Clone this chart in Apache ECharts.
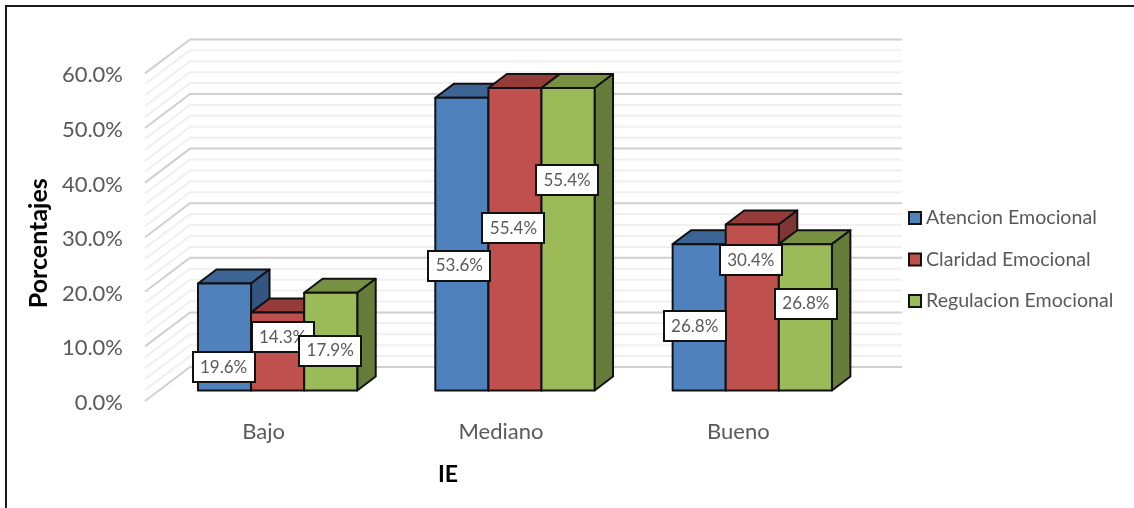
<!DOCTYPE html>
<html>
<head>
<meta charset="utf-8">
<script src="https://cdn.jsdelivr.net/npm/echarts@6/dist/echarts.min.js"></script>
<style>html,body{margin:0;padding:0;background:#fff}#c{width:1134px;height:508px}</style>
</head>
<body>
<div id="c"></div>
<script>
const categories = ['Bajo', 'Mediano', 'Bueno'];
const atencion = [19.6, 53.6, 26.8];
const claridad = [14.3, 55.4, 30.4];
const regulacion = [17.9, 55.4, 26.8];
const seriesNames = ['Atencion Emocional', 'Claridad Emocional', 'Regulacion Emocional'];
const gridValues = [0, 2, 4, 6, 8, 10, 12, 14, 16, 18, 20, 22, 24, 26, 28, 30, 32, 34, 36, 38, 40, 42, 44, 46, 48, 50, 52, 54, 56, 58, 60];

// Oblique projection: depth 0 is the axis plane, depth 1 the back wall.
const DEPTH_X = 45, DEPTH_Y = -34;
const BAR_NEAR = 0.31, BAR_FAR = 0.72;
const BAR_SHARE = 1 / 4.47;
const project = (p, z) => [p[0] + DEPTH_X * z, p[1] + DEPTH_Y * z];

const FONT = 'Lato';

const faceColors = [
  { front: '#4F81BD', top: '#3C6494', side: '#335680' },
  { front: '#C0504D', top: '#953C3A', side: '#7F3533' },
  { front: '#9BBB59', top: '#779043', side: '#667C3A' }
];

// Where each value box sits relative to the middle of its bar's front face,
// one row per series, one pair per category.
const labelShift = [
  [[-1, 30.5], [-2.5, 21.5], [-4.5, 9]],
  [[5, -14], [-1.5, -11], [-1.5, -47]],
  [[-0.5, 9], [-1, -59], [0.5, -13.5]]
];

function renderGrid(params, api) {
  const y = api.coord([0, api.value(1)])[1];
  const left = params.coordSys.x, right = left + params.coordSys.width;
  const major = api.value(1) % 10 === 0;
  return {
    type: 'polyline',
    silent: true,
    shape: { points: [[left, y], project([left, y], 1), project([right, y], 1)] },
    style: { fill: null, stroke: major ? '#D0D0D0' : '#F0F0F0', lineWidth: 2 }
  };
}

function makeBarRenderer(s) {
  return function (params, api) {
    const c = api.value(0), v = api.value(1);
    const w = api.size([1, 0])[0] * BAR_SHARE;
    const base = api.coord([c, 0]), top = api.coord([c, v]);
    const xl = base[0] + (s - 1.5) * w, xr = xl + w;
    const a = project([xl, top[1]], BAR_NEAR), b = project([xr, top[1]], BAR_NEAR);
    const d = project([xr, base[1]], BAR_NEAR), e = project([xl, base[1]], BAR_NEAR);
    const a2 = project([xl, top[1]], BAR_FAR), b2 = project([xr, top[1]], BAR_FAR);
    const d2 = project([xr, base[1]], BAR_FAR);
    const edge = { stroke: '#111', lineWidth: 2, lineJoin: 'round' };
    const col = faceColors[s];
    const poly = (pts, fill) => ({ type: 'polygon', shape: { points: pts }, style: Object.assign({ fill }, edge) });

    const shift = labelShift[s][c];
    const cx = (a[0] + b[0]) / 2 + shift[0], cy = (a[1] + e[1]) / 2 + shift[1];
    return {
      type: 'group',
      children: [
        poly([a, a2, b2, b], col.top),
        poly([b, b2, d2, d], col.side),
        poly([a, b, d, e], col.front),
        {
          type: 'rect', z2: 100 + 2 * s,
          shape: { x: Math.round(cx - 31), y: Math.round(cy - 15), width: 62, height: 30 },
          style: { fill: '#fff', stroke: '#111', lineWidth: 2 }
        },
        {
          type: 'text', z2: 101 + 2 * s,
          x: cx, y: cy,
          style: {
            text: v.toFixed(1) + '%', align: 'center', verticalAlign: 'middle',
            fill: '#595959', font: '17px ' + FONT
          }
        }
      ]
    };
  };
}

const barSeries = [atencion, claridad, regulacion].map((values, s) => ({
  type: 'custom',
  name: seriesNames[s],
  coordinateSystem: 'cartesian2d',
  itemStyle: { color: faceColors[s].front, borderColor: '#111', borderWidth: 2 },
  renderItem: makeBarRenderer(s),
  data: values.map((v, i) => [i, v]),
  z: 3
}));

const chart = echarts.init(document.getElementById('c'), null, { renderer: 'canvas' });
chart.setOption({
  animation: false,
  backgroundColor: '#fff',
  grid: { left: 145, top: 73.4, width: 712, height: 327.6 },
  xAxis: {
    type: 'category',
    data: categories,
    axisLine: { show: false },
    axisTick: { show: false },
    axisLabel: { margin: 20, color: '#595959', fontFamily: FONT, fontSize: 22 },
    name: 'IE',
    nameLocation: 'middle',
    nameGap: 62,
    nameTextStyle: { color: '#000', fontWeight: 'bold', fontSize: 23, fontFamily: FONT, padding: [0, 106, 0, 0] }
  },
  yAxis: {
    type: 'value',
    min: 0,
    max: 60,
    interval: 10,
    splitLine: { show: false },
    axisLine: { show: false },
    axisTick: { show: false },
    axisLabel: {
      margin: 22,
      formatter: (v) => '{tick|' + v.toFixed(1) + '%}',
      rich: { tick: { color: '#595959', fontFamily: FONT, fontSize: 22, padding: [4, 0, 0, 0] } }
    },
    name: 'Porcentajes',
    nameLocation: 'middle',
    nameGap: 94,
    nameRotate: 90,
    nameTextStyle: { color: '#000', fontWeight: 'bold', fontSize: 25, fontFamily: FONT, padding: [0, 12, 0, 0] }
  },
  legend: {
    orient: 'vertical',
    left: 908,
    top: 208,
    padding: 0,
    data: seriesNames,
    icon: 'rect',
    itemWidth: 12,
    itemHeight: 12,
    itemGap: 21.5,
    textStyle: { color: '#595959', fontFamily: FONT, fontSize: 19.6 },
    selectedMode: false
  },
  graphic: [{
    type: 'polyline', silent: true,
    shape: { points: [[6, 508], [6, 6], [1134, 6]] },
    style: { fill: null, stroke: '#1A1A1A', lineWidth: 2 }
  }],
  series: [{
    type: 'custom',
    coordinateSystem: 'cartesian2d',
    renderItem: renderGrid,
    data: gridValues.map((v) => [0, v]),
    silent: true,
    z: 1
  }].concat(barSeries)
});
</script>
</body>
</html>
